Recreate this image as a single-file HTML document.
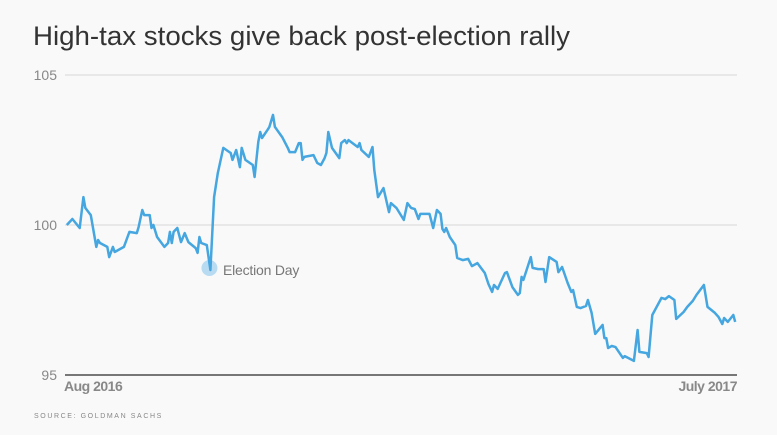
<!DOCTYPE html>
<html><head><meta charset="utf-8"><style>
html,body{margin:0;padding:0;background:#f9f9f9;}
svg{display:block;font-family:"Liberation Sans",sans-serif;}
</style></head><body>
<svg id="chart" width="777" height="435">
<rect width="777" height="435" fill="#f9f9f9"/>
<text x="33" y="45" font-size="27" textLength="537" lengthAdjust="spacingAndGlyphs" fill="#333">High-tax stocks give back post-election rally</text>
<g id="grid"></g>
<g id="series"></g>
<text x="34" y="418" font-size="7" letter-spacing="1.6" fill="#888">SOURCE: GOLDMAN SACHS</text>
</svg>
<script>
const days=[1,4,8,10,11,14,17,18,19,23,24,26,27,32,35,39,40,42,43,46,47,48,50,54,56,57,58,59,61,63,65,67,71,72,73,74,77,79,81,83,86,90,91,93,95,96,98,102,103,105,106,107,110,111,113,114,118,121,122,125,127,128,129,130,135,137,139,141,142,143,145,149,150,152,153,154,159,160,161,165,167,168,170,173,176,177,180,184,186,188,190,192,193,198,200,202,204,205,206,207,209,212,213,216,219,221,224,228,230,232,233,235,239,240,243,246,247,248,249,253,254,257,260,261,263,267,268,270,273,275,276,278,280,283,284,286,288,292,293,294,295,297,299,303,304,309,311,312,316,317,319,324,326,328,331,332,336,338,341,343,347,349,353,355,357,358,360,363,364];
const values=[100.0,100.2,99.9,100.93,100.57,100.33,99.27,99.5,99.4,99.27,98.93,99.27,99.1,99.27,99.77,99.73,99.93,100.5,100.33,100.33,99.9,100.0,99.6,99.27,99.4,99.77,99.4,99.77,99.9,99.43,99.73,99.43,99.23,99.07,99.6,99.4,99.33,98.5,100.93,101.73,102.57,102.4,102.17,102.5,101.93,102.57,102.17,102.0,101.6,102.77,103.1,102.9,103.17,103.27,103.67,103.27,102.93,102.57,102.43,102.43,102.73,102.73,102.17,102.27,102.33,102.07,102.0,102.23,102.4,103.1,102.57,102.23,102.73,102.83,102.73,102.83,102.6,102.73,102.5,102.27,102.6,101.83,100.93,101.23,100.43,100.73,100.57,100.17,100.73,100.57,100.53,100.2,100.37,100.37,99.9,100.5,100.37,99.87,99.77,99.9,99.6,99.33,98.9,98.83,98.87,98.63,98.73,98.4,98.03,97.77,98.0,97.87,98.4,98.43,97.93,97.67,97.73,98.27,98.17,98.93,98.57,98.53,98.53,98.1,98.93,98.77,98.43,98.6,98.07,97.77,97.83,97.27,97.23,97.3,97.5,97.07,96.37,96.67,96.23,96.23,95.9,95.97,95.93,95.57,95.63,95.47,96.5,95.77,95.73,95.6,97.0,97.57,97.53,97.63,97.5,96.87,97.1,97.27,97.47,97.67,98.0,97.27,97.07,96.93,96.7,96.9,96.77,97.0,96.77];
const yTicks=[105,100,95];
const xLabels=["Aug 2016","July 2017"];
const electionDay=79, electionValue=98.5;
const NS="http://www.w3.org/2000/svg";
const X0=65,X1=737,Y0=375,Y1=75;
const xs=d=>X0+d*(X1-X0)/365;
const ys=v=>Y0-(v-95)*(Y0-Y1)/10;
function mk(t,a,p){const e=document.createElementNS(NS,t);for(const k in a)e.setAttribute(k,a[k]);p.appendChild(e);return e;}
const grid=document.getElementById('grid'),ser=document.getElementById('series');
yTicks.forEach(v=>{
  const base=v===95;
  const l=mk('line',{x1:X0,x2:X1,y1:ys(v),y2:ys(v),stroke:base?'#777':'#e2e2e2','stroke-width':base?2:1.5},grid);
  
  
  const t=mk('text',{x:57,y:ys(v)+5,'text-anchor':'end','font-size':14,fill:'#888'},grid);
  t.textContent=v;
  
  
});
xLabels.forEach((s,i)=>{
  const t=mk('text',{x:i?X1:X0-1,y:391,'text-anchor':i?'end':'start','font-size':14,'font-weight':'bold',fill:'#888',style:'letter-spacing:-0.5px'},grid);
  t.textContent=s;
  
  
});
const c=mk('circle',{cx:xs(electionDay)-1,cy:ys(electionValue)-2,r:8,fill:'#a9d3f0',opacity:0.8},ser);


const et=mk('text',{x:223,y:275,'font-size':14,fill:'#777',style:'letter-spacing:-0.2px'},ser);
et.textContent='Election Day';


const pts=days.map((d,i)=>xs(d).toFixed(1)+','+ys(values[i]).toFixed(1)).join(' ');
const pl=mk('polyline',{points:pts,fill:'none',stroke:'#45a6e0','stroke-width':2.5,'stroke-linejoin':'round'},ser);


</script>
</body></html>
